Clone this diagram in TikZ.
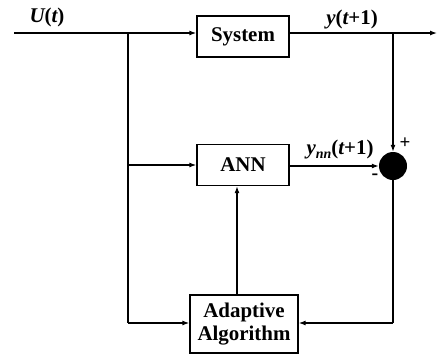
\documentclass[tikz,border=0pt]{standalone}
\usepackage{fontspec}
\setmainfont{Liberation Serif}
\usetikzlibrary{arrows.meta}
\newcommand{\mysub}[1]{\raisebox{-4bp}{\fontsize{14}{15}\selectfont\bfseries\itshape #1}}
\begin{document}
\begin{tikzpicture}[x=1bp,y=-1bp,
  blk/.style={draw, line width=1.3bp, font=\fontsize{21}{24}\selectfont\bfseries, align=center, inner sep=0pt},
  lbl/.style={font=\fontsize{21}{24}\selectfont\bfseries},
  conn/.style={line width=1.3bp},
  arr/.style={conn, -{Latex[length=7bp,width=5bp]}}]
\useasboundingbox (0,0) rectangle (437,354);
\node[blk, minimum width=92bp, minimum height=41bp] (sys) at (243,36.5) {System};
\node[blk, minimum width=92bp, minimum height=41bp] (ann) at (243,165) {ANN};
\node[blk, minimum width=108bp, minimum height=58bp] (ada) at (244,324) {Adaptive\\Algorithm};
\node[circle, fill=black, minimum size=28bp, inner sep=0pt] (sum) at (393,166) {};
\coordinate (in) at (14,33);
\coordinate (out) at (437,33);
\coordinate (j1) at (128,33);
\coordinate (j2) at (393,33);
\coordinate (b1) at (128,323);
\coordinate (b2) at (393,323);
\draw[arr] (in) -- (in -| sys.west);
\draw[arr] (sys.east |- out) -- (out);
\draw[conn] (j1) -- (b1);
\draw[arr] (b1) -- (b1 -| ada.west);
\draw[arr] (j1 |- ann.west) -- (ann.west);
\draw[arr] (j2) -- (sum.north);
\draw[arr] (ann.east |- sum.west) -- (sum.west);
\draw[conn] (sum.south) -- (b2);
\draw[arr] (b2) -- (b2 -| ada.east);
\draw[arr] (ada.north -| 237,0) -- (ann.south -| 237,0);
\node[lbl] (lu) at (47,17) {\itshape U\upshape(\itshape t\upshape)};
\node[lbl] (ly) at (352,19) {\itshape y\upshape(\itshape t\upshape+1)};
\node[lbl] (lynn) at (340,149) {\itshape y\mysub{nn}\upshape(\itshape t\upshape+1)};
\node[lbl, font=\fontsize{19}{19}\selectfont\bfseries] (plus) at (405,143) {+};
\node[lbl, font=\fontsize{20}{20}\selectfont\bfseries] (minus) at (375,177) {-};
\end{tikzpicture}
\end{document}
